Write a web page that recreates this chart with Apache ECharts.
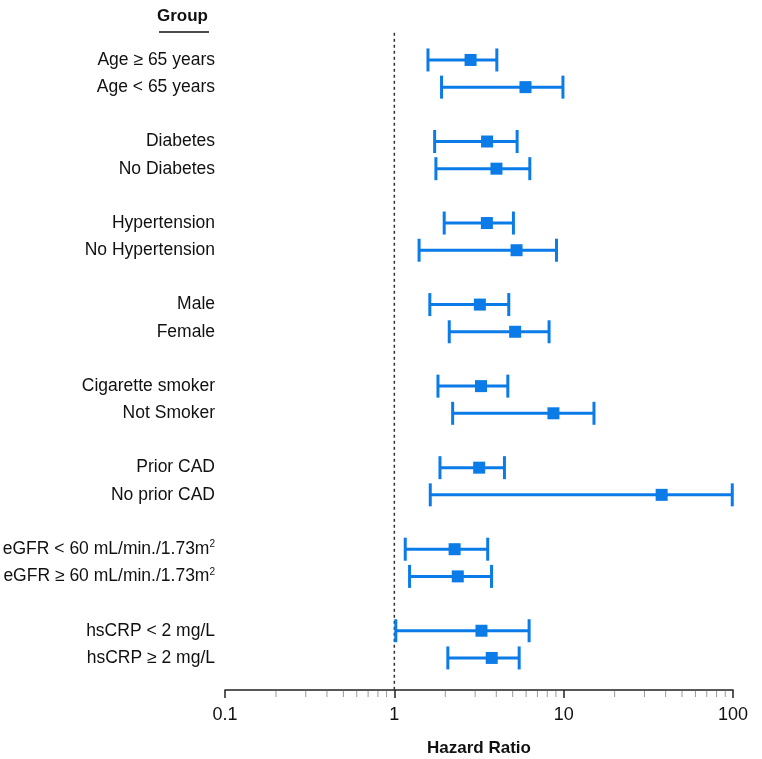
<!DOCTYPE html>
<html><head><meta charset="utf-8">
<script src="https://cdn.jsdelivr.net/npm/echarts@6/dist/echarts.min.js"></script>
<style>html,body{margin:0;padding:0;background:#fff}#c{width:762px;height:759px}</style>
</head><body><div id="c"></div>
<script>
// ---- data ----
const groups = [
  'Age \u2265 65 years', 'Age < 65 years',
  'Diabetes', 'No Diabetes',
  'Hypertension', 'No Hypertension',
  'Male', 'Female',
  'Cigarette smoker', 'Not Smoker',
  'Prior CAD', 'No prior CAD',
  'eGFR < 60 mL/min./1.73m{sup|2}', 'eGFR \u2265 60 mL/min./1.73m{sup|2}',
  'hsCRP < 2 mg/L', 'hsCRP \u2265 2 mg/L'
];
const rowPos = [0, 1, 3, 4, 6, 7, 9, 10, 12, 13, 15, 16, 18, 19, 21, 22];
const hazardRatio = [2.82, 5.95, 3.53, 4.01, 3.52, 5.27, 3.20, 5.17, 3.25, 8.7, 3.17, 37.9, 2.27, 2.37, 3.27, 3.76];
const lowerCI     = [1.58, 1.90, 1.73, 1.76, 1.97, 1.40, 1.62, 2.11, 1.81, 2.21, 1.86, 1.63, 1.16, 1.23, 1.02, 2.07];
const upperCI     = [4.03, 9.9, 5.31, 6.31, 5.05, 9.07, 4.74, 8.2, 4.68, 15.1, 4.47, 99, 3.56, 3.75, 6.25, 5.46];
const xTickLabels = ['0.1', '1', '10', '100'];
const minorTickValues = [0.2,0.3,0.4,0.5,0.6,0.7,0.8,0.9, 2,3,4,5,6,7,8,9, 20,30,40,50,60,70,80,90];
const referenceValue = 1;

// ---- chart ----
const BLUE = '#0b7be8';
const Y_MIN = -2, Y_MAX = 23.18;
const labelMap = {};
rowPos.forEach((r, i) => labelMap[r] = groups[i]);

const chart = echarts.init(document.getElementById('c'), null, {renderer: 'canvas'});
const option = {
  animation: false,
  backgroundColor: '#fff',
  textStyle: {fontFamily: 'Liberation Sans, Arial, sans-serif'},
  grid: {left: 225, right: 29, top: 5.6, bottom: 69, containLabel: false, outerBoundsMode: 'none'},
  xAxis: {
    type: 'log', logBase: 10, min: 0.1, max: 100,
    name: 'Hazard Ratio', nameLocation: 'middle', nameGap: 50,
    nameTextStyle: {fontSize: 17, fontWeight: 'bold', color: '#111', fontFamily: 'Liberation Sans, Arial, sans-serif'},
    axisLine: {show: true, onZero: false, lineStyle: {color: '#222', width: 1.5}},
    axisTick: {show: true, length: 8, lineStyle: {color: '#222', width: 1.5}},
    axisLabel: {
      fontSize: 18, color: '#111', margin: 16,
      formatter: v => {
        const e = Math.round(Math.log10(v)) + 1;
        return xTickLabels[e] !== undefined ? xTickLabels[e] : '';
      }
    },
    splitLine: {show: false},
    minorTick: {show: false}
  },
  yAxis: {
    type: 'value', inverse: true, min: Y_MIN, max: Y_MAX, interval: 1,
    axisLine: {show: false}, axisTick: {show: false}, splitLine: {show: false},
    axisLabel: {
      fontSize: 17.5, color: '#111', margin: 10,
      showMaxLabel: false, showMinLabel: false,
      formatter: v => (labelMap[v] !== undefined ? labelMap[v] : ''),
      rich: {sup: {fontSize: 10, color: '#111', verticalAlign: 'top', padding: [0, 0, 9, 0]}}
    }
  },
  graphic: [
    {type: 'text', left: 157, top: 8, style: {text: 'Group', font: 'bold 17px "Liberation Sans", Arial, sans-serif', fill: '#111'}},
    {type: 'line', shape: {x1: 159, y1: 32, x2: 209, y2: 32}, style: {stroke: '#111', lineWidth: 1.5}}
  ],
  series: [
    {
      type: 'line', silent: true, symbol: 'none',
      data: [[referenceValue, -1], [referenceValue, Y_MAX]],
      lineStyle: {color: '#333', width: 1.5, type: [3, 3]}, z: 1
    },
    {
      type: 'custom', silent: true, clip: false,
      data: minorTickValues.map(v => [v, Y_MAX]),
      encode: {x: 0, y: 1},
      renderItem: (params, api) => {
        const p = api.coord([api.value(0), api.value(1)]);
        return {type: 'line', shape: {x1: p[0], y1: p[1] + 1, x2: p[0], y2: p[1] + 7},
          style: {stroke: '#999', lineWidth: 1}};
      }, z: 1
    },
    {
      type: 'custom', silent: true,
      data: rowPos.map((r, i) => [r, lowerCI[i], upperCI[i]]),
      encode: {x: [1, 2], y: 0},
      renderItem: (params, api) => {
        const y = api.value(0);
        const a = api.coord([api.value(1), y]);
        const b = api.coord([api.value(2), y]);
        const h = 11.5;
        const st = {stroke: BLUE, lineWidth: 3};
        return {type: 'group', children: [
          {type: 'line', shape: {x1: a[0], y1: a[1], x2: b[0], y2: b[1]}, style: st},
          {type: 'line', shape: {x1: a[0], y1: a[1] - h, x2: a[0], y2: a[1] + h}, style: st},
          {type: 'line', shape: {x1: b[0], y1: b[1] - h, x2: b[0], y2: b[1] + h}, style: st}
        ]};
      }, z: 2
    },
    {
      type: 'scatter', silent: true, symbol: 'rect', symbolSize: 12,
      data: rowPos.map((r, i) => [hazardRatio[i], r]),
      itemStyle: {color: BLUE, opacity: 1}, z: 3
    }
  ]
};
chart.setOption(option);
</script>
</body></html>
